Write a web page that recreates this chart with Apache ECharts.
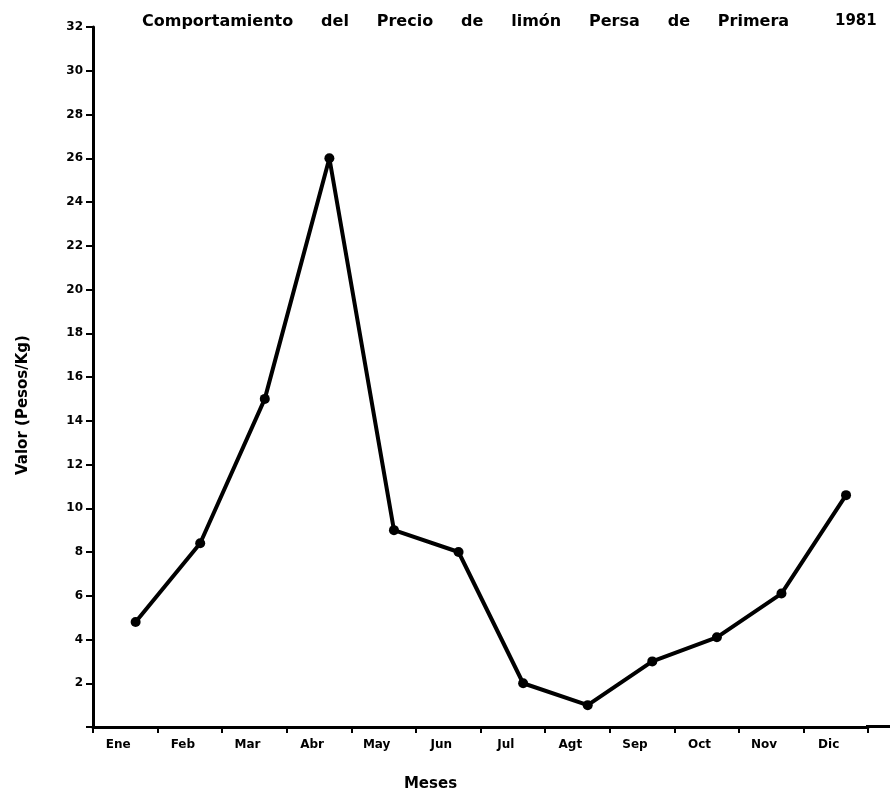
<!DOCTYPE html>
<html>
<head>
<meta charset="utf-8">
<script src="https://cdn.jsdelivr.net/npm/echarts@6/dist/echarts.min.js"></script>
<style>
  html, body { margin: 0; padding: 0; background: #fff; }
  #chart_1 { width: 890px; height: 797px; }
</style>
</head>
<body>
<div id="chart_1"></div>
<script>
// datos
var meses = ['Ene', 'Feb', 'Mar', 'Abr', 'May', 'Jun', 'Jul', 'Agt', 'Sep', 'Oct', 'Nov', 'Dic'];
var precios = [4.8, 8.4, 15.0, 26.0, 9.0, 8.0, 2.0, 1.0, 3.0, 4.1, 6.1, 10.6];
var yTicks = [2, 4, 6, 8, 10, 12, 14, 16, 18, 20, 22, 24, 26, 28, 30, 32];

var fuente = '"DejaVu Sans", sans-serif';

var myChart = echarts.init(document.getElementById('chart_1'));

myChart.setOption({
    backgroundColor: '#fff',
    animation: false,
    title: [{
        text: 'Comportamiento     del     Precio     de     limón     Persa     de     Primera',
        left: 137, top: 9,
        textStyle: {fontFamily: fuente, fontSize: 16, fontWeight: 'bold', color: '#000'}
    }, {
        text: '1981',
        left: 830, top: 9,
        textStyle: {fontFamily: fuente, fontSize: 15, fontWeight: 'bold', color: '#000'}
    }],
    grid: {left: 93, top: 27, bottom: 70, right: 22},
    // el eje x del original sigue hasta el borde derecho
    graphic: [{
        type: 'line',
        shape: {x1: 866, y1: 726.5, x2: 890, y2: 726.5},
        style: {stroke: '#000', lineWidth: 3}
    }],
    xAxis: [{
        type: 'category',
        data: meses,
        boundaryGap: true,
        name: 'Meses',
        nameLocation: 'middle',
        nameGap: 50,
        nameTextStyle: {fontFamily: fuente, fontSize: 15, fontWeight: 'bold', color: '#000', padding: [0, 100, 0, 0]},
        axisLine: {lineStyle: {color: '#000', width: 3}},
        axisTick: {show: true, length: 6, lineStyle: {color: '#000', width: 2}},
        axisLabel: {fontFamily: fuente, fontSize: 12, fontWeight: 'bold', color: '#000', margin: 12, padding: [0, 14, 0, 0]},
        splitLine: {show: false}
    }, {
        type: 'value',
        min: -0.66,
        max: 11.34,
        show: false
    }],
    yAxis: {
        type: 'value',
        min: 0,
        max: 32,
        interval: 2,
        name: 'Valor (Pesos/Kg)',
        nameLocation: 'middle',
        nameGap: 62,
        nameTextStyle: {fontFamily: fuente, fontSize: 15, fontWeight: 'bold', color: '#000', padding: [0, 56, 0, 0]},
        axisLine: {show: true, onZero: false, lineStyle: {color: '#000', width: 3}},
        axisTick: {show: true, length: 7, lineStyle: {color: '#000', width: 2}},
        axisLabel: {
            fontFamily: fuente, fontSize: 12, fontWeight: 'bold', color: '#000', margin: 10,
            formatter: function (v) {
                return yTicks.indexOf(v) >= 0 ? String(v) : '';
            }
        },
        splitLine: {show: false}
    },
    series: [{
        type: 'line',
        xAxisIndex: 1,
        data: precios.map(function (v, i) { return [i, v]; }),
        symbol: 'circle',
        symbolSize: 10,
        itemStyle: {color: '#000'},
        lineStyle: {color: '#000', width: 4}
    }]
});
</script>
</body>
</html>
